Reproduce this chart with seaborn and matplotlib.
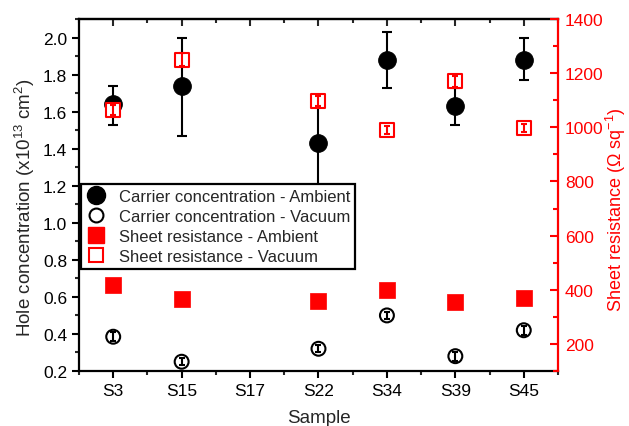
import numpy as np
import pandas as pd
import seaborn as sns
import matplotlib.pyplot as plt
from matplotlib.lines import Line2D
from matplotlib.ticker import MultipleLocator

# Data
samples = ["S3", "S15", "S17", "S22", "S34", "S39", "S45"]
measured = ["S3", "S15", "S22", "S34", "S39", "S45"]

conc_ambient = [1.64, 1.74, 1.43, 1.88, 1.63, 1.88]
conc_ambient_lo = [1.53, 1.47, 1.19, 1.73, 1.53, 1.77]
conc_ambient_hi = [1.74, 2.00, 1.66, 2.03, 1.73, 2.00]
conc_vacuum = [0.385, 0.25, 0.32, 0.50, 0.28, 0.42]
conc_vacuum_err = [0.025, 0.02, 0.02, 0.02, 0.025, 0.025]

res_ambient = [419, 367, 357, 398, 354, 370]
res_vacuum = [1063, 1250, 1097, 991, 1170, 998]
res_vacuum_err = [18, 25, 20, 15, 20, 15]

df = pd.DataFrame({
    "sample": measured,
    "conc_ambient": conc_ambient,
    "conc_vacuum": conc_vacuum,
    "res_ambient": res_ambient,
    "res_vacuum": res_vacuum,
})
df["pos"] = [samples.index(s) for s in df["sample"]]

sns.set_style("ticks")
plt.rcParams["font.family"] = ["Liberation Sans", "DejaVu Sans"]
plt.rcParams["mathtext.default"] = "regular"

fig = plt.figure(figsize=(6.29, 4.27), dpi=100)
ax = fig.add_axes([0.1256, 0.1288, 0.7615, 0.8244])
ax2 = ax.twinx()

# carrier concentration (left axis)
lo = np.array(conc_ambient) - np.array(conc_ambient_lo)
hi = np.array(conc_ambient_hi) - np.array(conc_ambient)
ax.errorbar(df["pos"], df["conc_ambient"], yerr=[lo, hi], fmt="none",
            ecolor="black", elinewidth=1.5, capsize=3.5, capthick=1.5, zorder=2)
sns.scatterplot(data=df, x="pos", y="conc_ambient", ax=ax, marker="o", s=160,
                color="black", edgecolor="black", linewidth=0.8, zorder=3, legend=False)
ax.errorbar(df["pos"], df["conc_vacuum"], yerr=conc_vacuum_err, fmt="none",
            ecolor="black", elinewidth=1.5, capsize=2.5, capthick=1.5, zorder=4)
sns.scatterplot(data=df, x="pos", y="conc_vacuum", ax=ax, marker="o", s=100,
                facecolor="none", edgecolor="black", linewidth=1.5, zorder=3, legend=False)

# sheet resistance (right axis)
sns.scatterplot(data=df, x="pos", y="res_ambient", ax=ax2, marker="s", s=120,
                color="red", edgecolor="red", linewidth=0.5, zorder=3, legend=False)
sns.scatterplot(data=df, x="pos", y="res_vacuum", ax=ax2, marker="s", s=90,
                facecolor="white", edgecolor="red", linewidth=1.5, zorder=3, legend=False)
ax2.errorbar(df["pos"], df["res_vacuum"], yerr=res_vacuum_err, fmt="none",
             ecolor="red", elinewidth=1.5, capsize=2.5, capthick=1.5, zorder=4)

# axes styling
ax.set_xlim(-0.5, 6.5)
ax.set_ylim(0.2, 2.1)
ax2.set_ylim(100, 1400)
ax.set_xticks(range(len(samples)), samples)
ax.xaxis.set_minor_locator(MultipleLocator(0.5))
ax.yaxis.set_major_locator(MultipleLocator(0.2))
ax.yaxis.set_minor_locator(MultipleLocator(0.1))
ax.yaxis.set_major_formatter(plt.FormatStrFormatter("%.1f"))
ax2.yaxis.set_major_locator(MultipleLocator(200))
ax2.yaxis.set_minor_locator(MultipleLocator(100))

for s in ax.spines.values():
    s.set_linewidth(1.6)
    s.set_color("black")
ax.spines["right"].set_visible(False)
for s in ax2.spines.values():
    s.set_visible(False)
ax2.spines["right"].set_visible(True)
ax2.spines["right"].set_color("red")
ax2.spines["right"].set_linewidth(1.6)

ax.tick_params(axis="both", which="major", direction="out", length=5, width=1.5,
               labelsize=12.5, colors="black", right=False, top=False)
ax.tick_params(axis="both", which="minor", direction="out", length=3, width=1.5,
               right=False, top=False)
ax2.tick_params(axis="y", which="major", direction="in", length=6, width=1.5,
                labelsize=12.5, colors="red", pad=5)
ax2.tick_params(axis="y", which="minor", direction="in", length=3.5, width=1.5, colors="red")

top = ax.secondary_xaxis("top")
top.set_xticks(range(len(samples)))
top.xaxis.set_minor_locator(MultipleLocator(0.5))
top.tick_params(which="major", direction="in", length=5, width=1.5, labeltop=False)
top.tick_params(which="minor", direction="in", length=3, width=1.5)
top.spines["top"].set_linewidth(1.6)

ax.set_xlabel("Sample", fontsize=13.5, labelpad=8)
ax.set_ylabel("Hole concentration (x10$^{13}$ cm$^{2}$)", fontsize=13.5, labelpad=4)
ax2.set_ylabel("Sheet resistance (Ω sq$^{-1}$)", fontsize=13, color="red", labelpad=0)
ax.yaxis.label.set_y(0.468)
ax2.yaxis.label.set_y(0.46)

handles = [
    Line2D([], [], ls="none", marker="o", markersize=13, color="black"),
    Line2D([], [], ls="none", marker="o", markersize=10, mfc="white", mec="black", mew=1.5),
    Line2D([], [], ls="none", marker="s", markersize=12, color="red"),
    Line2D([], [], ls="none", marker="s", markersize=10, mfc="white", mec="red", mew=1.5),
]
labels = ["Carrier concentration - Ambient", "Carrier concentration - Vacuum",
          "Sheet resistance - Ambient", "Sheet resistance - Vacuum"]
leg = ax2.legend(handles, labels, loc="upper left", bbox_to_anchor=(0.0, 0.537),
                 fontsize=12, frameon=True, fancybox=False, framealpha=1,
                 edgecolor="black", borderpad=0.3, labelspacing=0.3,
                 handlelength=1.2, handletextpad=0.8, borderaxespad=0.1)
leg.get_frame().set_linewidth(1.6)
leg.set_zorder(10)

fig.savefig("out.png", dpi=100)
